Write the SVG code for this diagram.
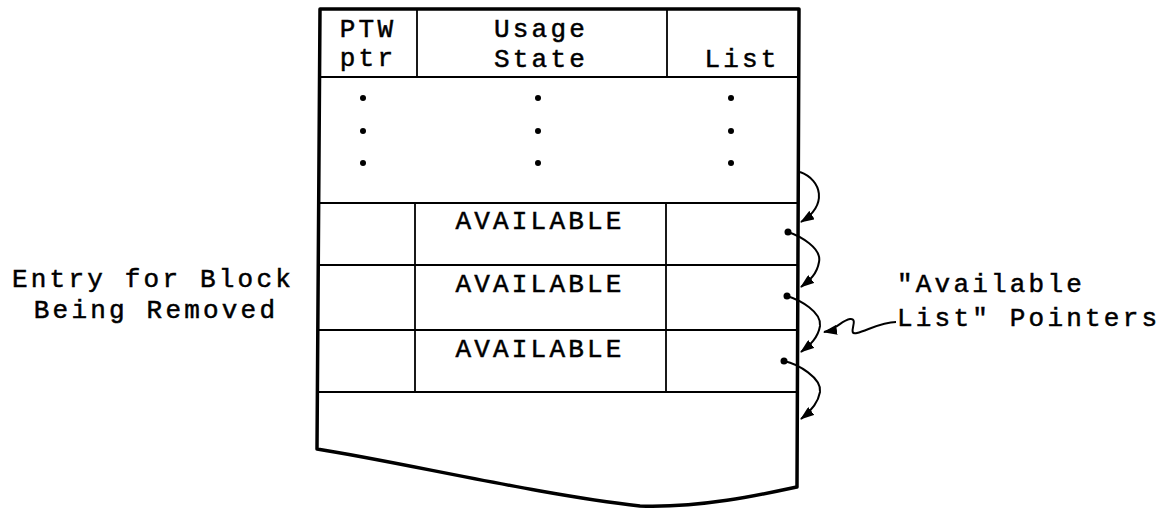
<svg xmlns="http://www.w3.org/2000/svg" width="1169" height="510" viewBox="0 0 1169 510">
<style>
.t{font-family:"Liberation Mono","Courier New",monospace;font-size:26px;letter-spacing:3.2px;fill:#000;stroke:#000;stroke-width:0.5}
.c{text-anchor:middle}
.thin{fill:none;stroke:#000;stroke-width:1.8}
.thick{fill:none;stroke:#000;stroke-width:3.5;stroke-linejoin:round}
.arc{fill:none;stroke:#000;stroke-width:2}
</style>
<defs>
<marker id="ah" viewBox="0 0 14 10" refX="13" refY="5" markerWidth="14" markerHeight="10" markerUnits="userSpaceOnUse" orient="auto">
<path d="M0 0 L14 5 L0 10 Z" fill="#000"/>
</marker>
</defs>
<rect width="1169" height="510" fill="#fff"/>
<g id="table">
<path class="thick" d="M320 9 L799 9 L797 487 C760 495 700 508 640 506 C540 495 400 462 317 449 Z"/>
</g>
<g id="header">
<line class="thin" x1="320" y1="77" x2="799" y2="77"/>
<line class="thin" x1="417" y1="9" x2="417" y2="77"/>
<line class="thin" x1="667" y1="9" x2="667" y2="77"/>
<text class="t c" x="368" y="37">PTW</text>
<text class="t c" x="368" y="66">ptr</text>
<text class="t c" x="541" y="37">Usage</text>
<text class="t c" x="541" y="67">State</text>
<text class="t c" x="742" y="67">List</text>
</g>
<g id="ellipsis">
<circle cx="363" cy="98" r="3"/><circle cx="363" cy="131" r="3"/><circle cx="363" cy="163" r="3"/>
<circle cx="538" cy="98" r="3"/><circle cx="538" cy="131" r="3"/><circle cx="538" cy="163" r="3"/>
<circle cx="731" cy="98" r="3"/><circle cx="731" cy="131" r="3"/><circle cx="731" cy="163" r="3"/>
</g>
<g id="row1">
<line class="thin" x1="320" y1="203" x2="798" y2="203"/>
<line class="thin" x1="415" y1="203" x2="415" y2="265"/>
<line class="thin" x1="666" y1="203" x2="666" y2="265"/>
<text class="t c" x="540" y="229">AVAILABLE</text>
</g>
<g id="row2">
<line class="thin" x1="319" y1="265" x2="798" y2="265"/>
<line class="thin" x1="415" y1="265" x2="415" y2="330"/>
<line class="thin" x1="666" y1="265" x2="666" y2="330"/>
<text class="t c" x="540" y="292">AVAILABLE</text>
</g>
<g id="row3">
<line class="thin" x1="319" y1="330" x2="798" y2="330"/>
<line class="thin" x1="415" y1="330" x2="415" y2="392"/>
<line class="thin" x1="666" y1="330" x2="666" y2="392"/>
<text class="t c" x="540" y="357">AVAILABLE</text>
<line class="thin" x1="318" y1="392" x2="797" y2="392"/>
</g>
<g id="label-left">
<text class="t c" x="153" y="287">Entry for Block</text>
<text class="t c" x="156" y="318">Being Removed</text>
</g>
<g id="label-right">
<text class="t" x="897" y="292">"Available</text>
<text class="t" x="897" y="326">List" Pointers</text>
</g>
<g id="connectors">
<path class="arc" d="M800 172 C822 180 828 205 801 222" marker-end="url(#ah)"/>
<circle cx="788" cy="232" r="3.5"/>
<path class="arc" d="M788 232 C800 236 822 248 819 262 C817 274 810 280 801 287" marker-end="url(#ah)"/>
<circle cx="787" cy="296" r="3.5"/>
<path class="arc" d="M787 296 C800 300 822 312 820 326 C818 338 810 345 801 352" marker-end="url(#ah)"/>
<circle cx="784" cy="361" r="3.5"/>
<path class="arc" d="M784 361 C798 364 822 378 820 392 C818 404 810 412 801 419" marker-end="url(#ah)"/>
<path class="arc" d="M896 322 C882 322 868 330 857 333 C846 336 860 318 850 319 C842 320 836 330 824 332" marker-end="url(#ah)"/>
</g>
</svg>
